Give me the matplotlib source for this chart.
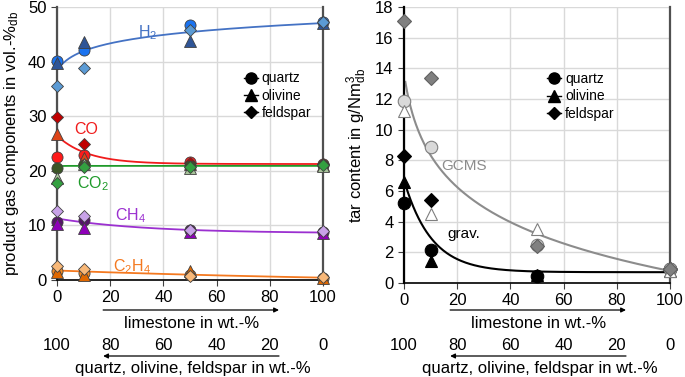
import numpy as np
import matplotlib.pyplot as plt
from matplotlib.lines import Line2D
from matplotlib.transforms import blended_transform_factory

plt.rcParams['font.family'] = ['Liberation Sans', 'DejaVu Sans']
plt.rcParams['mathtext.default'] = 'regular'

# limestone share in the bed, wt.-%
x = [0, 10, 50, 100]

# product gas, vol.-% db
h2_quartz = [40.2, 42.1, 46.7, 47.3]
h2_olivine = [39.8, 43.6, 43.8, 47.0]
h2_feldspar = [35.6, 38.9, 45.8, 47.3]

co_quartz = [22.6, 22.9, 21.6, 21.2]
co_olivine = [26.8, 22.4, 21.3, 21.0]
co_feldspar = [29.9, 24.9, 21.4, 21.2]

co2_quartz = [20.6, 21.0, 20.9, 21.1]
co2_olivine = [18.6, 21.2, 20.6, 20.9]
co2_feldspar = [17.8, 20.7, 20.7, 21.0]

ch4_quartz = [10.7, 10.9, 9.1, 8.8]
ch4_olivine = [10.2, 9.6, 8.8, 8.6]
ch4_feldspar = [12.6, 11.7, 9.2, 8.9]

c2h4_quartz = [1.7, 1.2, 0.9, 0.4]
c2h4_olivine = [1.4, 0.9, 1.6, 0.3]
c2h4_feldspar = [2.5, 2.0, 0.7, 0.5]

# tar, g/Nm3 db
gcms_quartz = [11.9, 8.9, 2.5, 0.9]
gcms_olivine = [11.2, 4.5, 3.5, 0.8]
gcms_feldspar = [17.1, 13.4, 2.4, 0.9]

grav_quartz = [5.2, 2.15, 0.45, 0.9]
grav_olivine = [6.6, 1.45, 0.5, 0.8]
grav_feldspar = [8.3, 5.4, np.nan, 0.9]

materials = ['quartz', 'olivine', 'feldspar']
markers = ['o', '^', 'D']
msizes = [8, 8, 6.5]


def fit_trend(series, kind):
    # least squares trend: a + b*ln(x+p) or a + b*exp(-x/p), p by grid search
    xs = np.tile(x, len(series)).astype(float)
    ys = np.concatenate(series).astype(float)
    ok = ~np.isnan(ys)
    xs, ys = xs[ok], ys[ok]
    grid = np.linspace(0.5, 3, 60) if kind == 'log' else np.linspace(0.5, 150, 600)
    best = None
    for p in grid:
        f = np.log(xs + p) if kind == 'log' else np.exp(-xs / p)
        A = np.column_stack([np.ones_like(f), f])
        coef, *_ = np.linalg.lstsq(A, ys, rcond=None)
        err = np.sum((A @ coef - ys) ** 2)
        if best is None or err < best[0]:
            best = (err, p, coef)
    _, p, coef = best
    xf = np.linspace(0.5, 100, 300)
    f = np.log(xf + p) if kind == 'log' else np.exp(-xf / p)
    return xf, coef[0] + coef[1] * f


fig = plt.figure(figsize=(6.85, 3.77), dpi=100)
ax1 = fig.add_axes([57 / 685, 1 - 280 / 377, 266 / 685, 273 / 377])
ax2 = fig.add_axes([404 / 685, 1 - 283 / 377, 266 / 685, 276 / 377])

gases = [
    ('H$_2$', (h2_quartz, h2_olivine, h2_feldspar), ('#1a73f0', '#2f5597', '#5b9bd5'), '#4472c4', 'log', (34, 45.3)),
    ('CO', (co_quartz, co_olivine, co_feldspar), ('#ff1a1a', '#dd4418', '#c00000'), '#f01c1c', 'exp', (11, 27.6)),
    ('CO$_2$', (co2_quartz, co2_olivine, co2_feldspar), ('#3b5626', '#a8c49a', '#33a040'), '#1f9a2a', 'exp', (13.5, 17.6)),
    ('CH$_4$', (ch4_quartz, ch4_olivine, ch4_feldspar), ('#56146a', '#8e00b8', '#c8a2e8'), '#9b30d0', 'exp', (27.5, 11.8)),
    ('C$_2$H$_4$', (c2h4_quartz, c2h4_olivine, c2h4_feldspar), ('#f28a24', '#e06800', '#f8b878'), '#f47920', 'exp', (28, 2.5)),
]

for name, series, cols, lc, kind, pos in gases:
    xf, yf = fit_trend(series, kind)
    ax1.plot(xf, yf, color=lc, lw=1.3, zorder=2)
    for vals, m, ms, c in zip(series, markers, msizes, cols):
        ax1.plot(x, vals, ls='none', marker=m, ms=ms, mfc=c, mec='#404040', mew=0.6, zorder=3, clip_on=False)
    ax1.text(pos[0], pos[1], name, color=lc, fontsize=11.5, ha='center', va='center')

tars = [
    ('grav.', (grav_quartz, grav_olivine, grav_feldspar), ('black', 'black', 'black'), ('black', 'black', 'black'), 'black', 'exp', (22.6, 3.2)),
    ('GCMS', (gcms_quartz, gcms_olivine, gcms_feldspar), ('#d9d9d9', 'white', '#808080'), ('#7f7f7f', '#7f7f7f', '#606060'), '#8c8c8c', 'log', (22.6, 7.6)),
]

for name, series, cols, ecols, lc, kind, pos in tars:
    xf, yf = fit_trend(series, kind)
    ax2.plot(xf, yf, color=lc, lw=1.5, zorder=2)
    for vals, m, ms, c, ec in zip(series, markers, msizes, cols, ecols):
        ax2.plot(x, vals, ls='none', marker=m, ms=ms + 1, mfc=c, mec=ec, mew=0.8, zorder=3, clip_on=False)
    ax2.text(pos[0], pos[1], name, color=lc, fontsize=11, ha='center', va='center')

ax1.set_ylim(0, 50)
ax1.set_yticks(range(0, 51, 10))
ax1.set_ylabel('product gas components in vol.-%$_{db}$', fontsize=12)
ax1.yaxis.set_label_coords(-0.135, 0.5)
ax2.set_ylim(0, 18)
ax2.set_yticks(range(0, 19, 2))
ax2.set_ylabel('tar content in g/Nm$^3_{db}$', fontsize=12)
ax2.yaxis.set_label_coords(-0.13, 0.5)

handles = [Line2D([], [], color='black', marker=m, ms=ms, lw=1) for m, ms in zip(markers, msizes)]

for ax, lx in ((ax1, 0.655), (ax2, 0.49)):
    ax.set_xlim(0, 100)
    ax.set_xticks(range(0, 101, 20))
    ax.grid(True, color='#d9d9d9', lw=1)
    ax.set_axisbelow(True)
    ax.tick_params(labelsize=12, length=4, color='#404040')
    ax.spines['top'].set_visible(False)
    ax.spines['left'].set_color('#505050')
    ax.spines['left'].set_linewidth(1.6)
    ax.spines['right'].set_color('#505050')
    ax.spines['right'].set_linewidth(1.6)
    ax.spines['bottom'].set_color('black')
    ax.spines['bottom'].set_linewidth(1.2)
    ax.legend(handles, materials, loc='upper left', bbox_to_anchor=(lx, 0.81), frameon=False,
              fontsize=10, handlelength=1.0, handletextpad=0.3, labelspacing=0.25, numpoints=1)

    tr = blended_transform_factory(ax.transData, fig.transFigure)
    ax.annotate('', xy=(84.5, 1 - 310 / 377), xytext=(16.3, 1 - 310 / 377), xycoords=tr,
                arrowprops=dict(arrowstyle='-|>', color='black', lw=0.9, mutation_scale=7), annotation_clip=False)
    ax.text(50.5, 1 - 324 / 377, 'limestone in wt.-%', transform=tr, fontsize=12, ha='center', va='center')
    for t in range(0, 101, 20):
        ax.text(t, 1 - 346 / 377, str(100 - t), transform=tr, fontsize=12, ha='center', va='center')
    ax.annotate('', xy=(16.3, 1 - 356 / 377), xytext=(84.5, 1 - 356 / 377), xycoords=tr,
                arrowprops=dict(arrowstyle='-|>', color='black', lw=0.9, mutation_scale=7), annotation_clip=False)
    ax.text(51, 1 - 368 / 377, 'quartz, olivine, feldspar in wt.-%', transform=tr, fontsize=12, ha='center', va='center')

ax2.spines['left'].set_color('black')

fig.savefig('out.png', dpi=100)
